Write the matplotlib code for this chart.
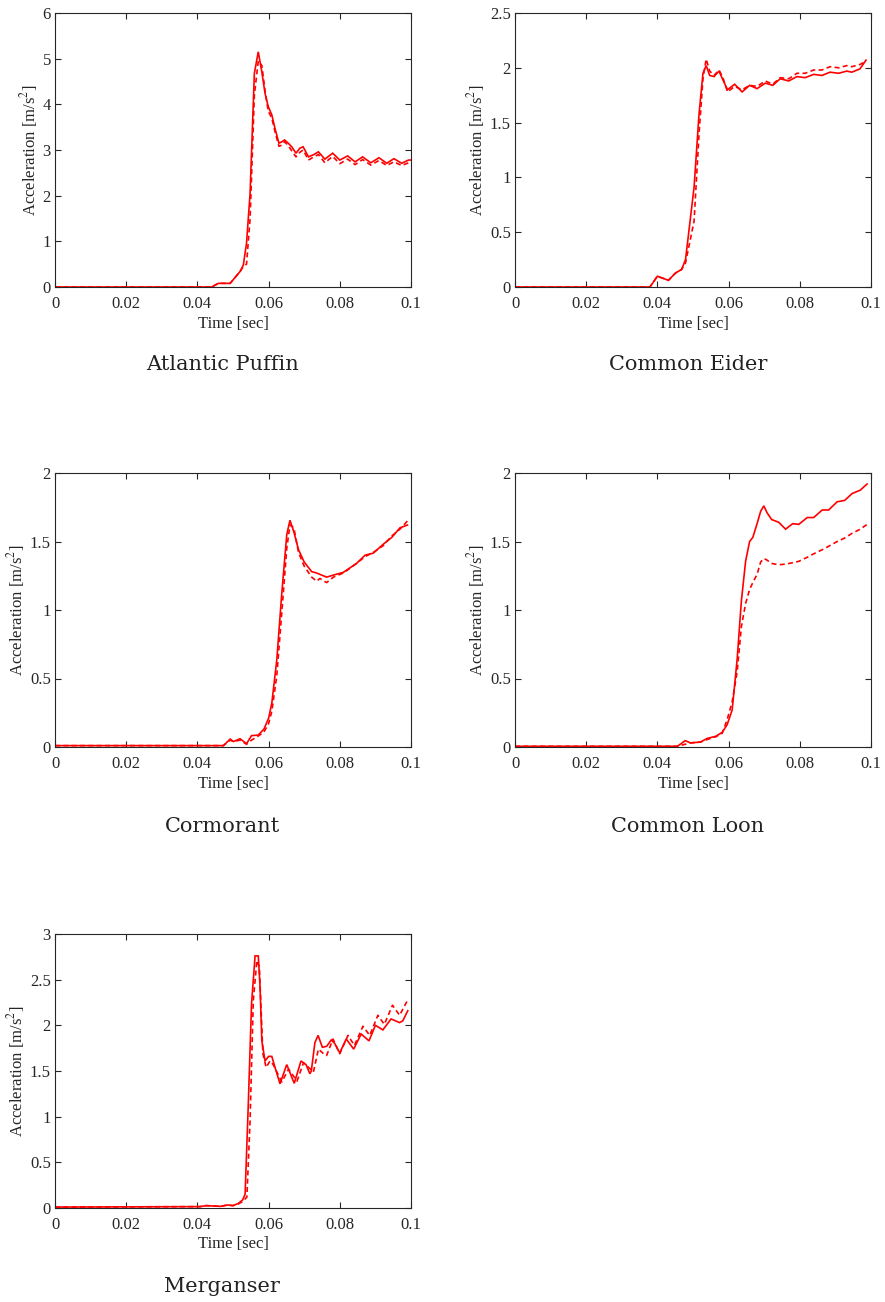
import matplotlib
matplotlib.use("Agg")
import matplotlib.pyplot as plt
from matplotlib.ticker import FuncFormatter

plt.rcParams['font.family'] = ['Liberation Serif', 'DejaVu Serif']
plt.rcParams['mathtext.fontset'] = 'stix'

titles = ["Atlantic Puffin", "Common Eider", "Cormorant", "Common Loon", "Merganser"]
ylims = [6, 2.5, 2, 2, 3]
ysteps = [1, 0.5, 0.5, 0.5, 0.5]
xticks = [0, 0.02, 0.04, 0.06, 0.08, 0.1]

# Atlantic Puffin
t_puffin = [0, 0.044, 0.0459, 0.0492, 0.052, 0.0529, 0.0538, 0.0548, 0.056, 0.0571, 0.0581, 0.059,
            0.0599, 0.0609, 0.0618, 0.0629, 0.0635, 0.0645, 0.0655, 0.0665, 0.0677, 0.0688, 0.0697,
            0.0712, 0.0727, 0.074, 0.0758, 0.078, 0.080, 0.0822, 0.0843, 0.0864, 0.0887, 0.091,
            0.0932, 0.0952, 0.0974, 0.0993, 0.1]
a_puffin_solid = [0, 0, 0.08, 0.08, 0.34, 0.48, 0.96, 2.05, 4.68, 5.15, 4.71, 4.24, 3.95, 3.77, 3.47,
                  3.15, 3.17, 3.22, 3.15, 3.07, 2.93, 3.04, 3.07, 2.85, 2.9, 2.96, 2.8, 2.93, 2.78,
                  2.87, 2.74, 2.85, 2.72, 2.83, 2.71, 2.81, 2.71, 2.78, 2.78]
a_puffin_dashed = [0, 0, 0.08, 0.08, 0.34, 0.45, 0.5, 1.5, 4.2, 4.95, 4.85, 4.3, 3.85, 3.7, 3.4,
                   3.08, 3.1, 3.18, 3.1, 2.98, 2.85, 2.95, 3.0, 2.78, 2.85, 2.9, 2.72, 2.86, 2.7,
                   2.8, 2.68, 2.79, 2.67, 2.77, 2.66, 2.74, 2.66, 2.72, 2.73]

# Common Eider
t_eider = [0, 0.0379, 0.04, 0.0431, 0.0451, 0.0468, 0.0479, 0.0503, 0.0517, 0.0528, 0.0537, 0.0547,
           0.0559, 0.0573, 0.0584, 0.0597, 0.0617, 0.0638, 0.0659, 0.068, 0.0703, 0.0724, 0.0745,
           0.0769, 0.0792, 0.0815, 0.0839, 0.0862, 0.0885, 0.0909, 0.0932, 0.0946, 0.0969, 0.0986]
a_eider_solid = [0, 0, 0.098, 0.061, 0.128, 0.16, 0.25, 0.91, 1.58, 1.95, 2.02, 1.93, 1.92, 1.97,
                 1.89, 1.80, 1.85, 1.78, 1.84, 1.81, 1.86, 1.84, 1.9, 1.88, 1.92, 1.91, 1.94, 1.93,
                 1.96, 1.95, 1.97, 1.96, 1.99, 2.07]
a_eider_dashed = [0, 0, 0.098, 0.061, 0.128, 0.16, 0.22, 0.6, 1.4, 1.9, 2.08, 1.97, 1.93, 1.98,
                  1.91, 1.78, 1.83, 1.8, 1.84, 1.83, 1.88, 1.85, 1.91, 1.9, 1.95, 1.95, 1.98, 1.98,
                  2.01, 2.0, 2.02, 2.01, 2.03, 2.06]

# Cormorant
t_cormorant = [0, 0.0473, 0.0492, 0.0501, 0.052, 0.0538, 0.0552, 0.0571, 0.0587, 0.06, 0.0609,
               0.0623, 0.0637, 0.0651, 0.066, 0.0671, 0.0684, 0.07, 0.0721, 0.0735, 0.0744, 0.0763,
               0.0782, 0.081, 0.0847, 0.0871, 0.0894, 0.0922, 0.0946, 0.0969, 0.099]
a_cormorant_solid = [0.01, 0.01, 0.058, 0.04, 0.06, 0.024, 0.083, 0.087, 0.131, 0.21, 0.32, 0.636,
                     1.12, 1.55, 1.655, 1.57, 1.44, 1.35, 1.28, 1.27, 1.26, 1.24, 1.255, 1.275,
                     1.34, 1.40, 1.415, 1.48, 1.53, 1.60, 1.62]
a_cormorant_dashed = [0.01, 0.01, 0.05, 0.04, 0.05, 0.02, 0.05, 0.08, 0.11, 0.17, 0.26, 0.52,
                      0.98, 1.45, 1.62, 1.6, 1.42, 1.32, 1.24, 1.21, 1.23, 1.2, 1.24, 1.27,
                      1.34, 1.39, 1.42, 1.47, 1.54, 1.59, 1.65]

# Common Loon
t_loon = [0, 0.0456, 0.0478, 0.0493, 0.0521, 0.054, 0.0564, 0.0582, 0.0596, 0.061, 0.0624, 0.0636,
          0.0648, 0.0659, 0.0668, 0.068, 0.069, 0.0699, 0.0708, 0.0721, 0.0741, 0.076, 0.078,
          0.0797, 0.0821, 0.0839, 0.0863, 0.0881, 0.0905, 0.0926, 0.0947, 0.097, 0.0989]
a_loon_solid = [0.005, 0.005, 0.046, 0.03, 0.036, 0.063, 0.078, 0.107, 0.163, 0.27, 0.64, 1.07,
                1.36, 1.50, 1.53, 1.63, 1.72, 1.76, 1.71, 1.66, 1.64, 1.59, 1.63, 1.625, 1.675,
                1.675, 1.73, 1.73, 1.79, 1.80, 1.85, 1.875, 1.92]
a_loon_dashed = [0.005, 0.005, 0.02, 0.03, 0.036, 0.055, 0.075, 0.1, 0.2, 0.33, 0.55, 0.88,
                 1.05, 1.15, 1.2, 1.26, 1.35, 1.376, 1.364, 1.34, 1.33, 1.335, 1.345, 1.355, 1.385,
                 1.41, 1.44, 1.465, 1.5, 1.525, 1.56, 1.59, 1.625]

# Merganser
t_merg_solid = [0, 0.0407, 0.0425, 0.0465, 0.0485, 0.05, 0.0515, 0.0527, 0.0534, 0.0543, 0.0552,
                0.0562, 0.0571, 0.0576, 0.0581, 0.059, 0.06, 0.0609, 0.0618, 0.0632, 0.0651,
                0.0672, 0.0691, 0.0705, 0.0716, 0.072, 0.073, 0.0739, 0.0751, 0.0763, 0.0776,
                0.0786, 0.0795, 0.08, 0.0818, 0.0839, 0.086, 0.0882, 0.09, 0.0921, 0.0944,
                0.0968, 0.0977, 0.0991]
a_merg_solid = [0.01, 0.015, 0.026, 0.018, 0.033, 0.026, 0.05, 0.088, 0.15, 1.14, 2.23, 2.76, 2.76,
                2.42, 1.83, 1.61, 1.66, 1.66, 1.54, 1.36, 1.57, 1.365, 1.61, 1.57, 1.47, 1.50,
                1.81, 1.89, 1.76, 1.77, 1.84, 1.80, 1.73, 1.70, 1.85, 1.74, 1.905, 1.83, 2.0,
                1.95, 2.07, 2.03, 2.05, 2.16]
t_merg_dashed = [0, 0.0407, 0.0425, 0.0465, 0.0485, 0.05, 0.0515, 0.0527, 0.0539, 0.0548, 0.0557,
                 0.0567, 0.0574, 0.0584, 0.0593, 0.0604, 0.0613, 0.0637, 0.0656, 0.068, 0.0698,
                 0.0712, 0.0726, 0.074, 0.0754, 0.0763, 0.0781, 0.08, 0.0823, 0.0841, 0.0865,
                 0.0884, 0.0907, 0.0925, 0.0948, 0.0968, 0.0991]
a_merg_dashed = [0.01, 0.015, 0.026, 0.018, 0.033, 0.026, 0.045, 0.07, 0.12, 0.96, 2.27, 2.71,
                 2.64, 1.69, 1.54, 1.61, 1.57, 1.38, 1.52, 1.39, 1.59, 1.54, 1.49, 1.74, 1.69,
                 1.67, 1.85, 1.69, 1.89, 1.78, 1.99, 1.89, 2.11, 2.01, 2.22, 2.11, 2.28]

series = [
    (t_puffin, a_puffin_solid, t_puffin, a_puffin_dashed),
    (t_eider, a_eider_solid, t_eider, a_eider_dashed),
    (t_cormorant, a_cormorant_solid, t_cormorant, a_cormorant_dashed),
    (t_loon, a_loon_solid, t_loon, a_loon_dashed),
    (t_merg_solid, a_merg_solid, t_merg_dashed, a_merg_dashed),
]

W, H = 885, 1302
fig = plt.figure(figsize=(W / 100, H / 100), dpi=100)

lefts = [55, 515, 55, 515, 55]
bottoms = [287, 287, 747, 747, 1208]
cap_x = [222, 688, 222, 688, 222]
cap_y = [365, 365, 826, 826, 1287]
aw, ah = 356, 274

fmt = FuncFormatter(lambda v, p: ('%g' % round(v, 6)))

for i in range(5):
    ax = fig.add_axes([lefts[i] / W, 1 - bottoms[i] / H, aw / W, ah / H])
    ts, ys, td, yd = series[i]
    ax.plot(ts, ys, color='#ff0000', lw=1.2, solid_joinstyle='miter')
    ax.plot(td, yd, color='#ff0000', lw=1.2, linestyle=(0, (3, 2)))
    ax.set_xlim(0, 0.1)
    ax.set_ylim(0, ylims[i])
    ax.set_xticks(xticks)
    n = int(round(ylims[i] / ysteps[i]))
    ax.set_yticks([k * ysteps[i] for k in range(n + 1)])
    ax.xaxis.set_major_formatter(fmt)
    ax.yaxis.set_major_formatter(fmt)
    ax.tick_params(direction='in', top=True, right=True, length=4, width=0.8,
                   labelsize=12, colors='#262626', pad=3)
    ax.tick_params(axis='x', pad=6.5)
    for s in ax.spines.values():
        s.set_color('#262626')
        s.set_linewidth(0.8)
    ax.set_xlabel('Time [sec]', fontsize=12, color='#262626', labelpad=2.5)
    ax.set_ylabel('Acceleration [m/s$^2$]', fontsize=12, color='#262626', labelpad=2)
    fig.text(cap_x[i] / W, 1 - cap_y[i] / H, titles[i], fontsize=15, ha='center', va='center',
             family='DejaVu Serif', color='#222222')

fig.savefig('out.png', dpi=100)
